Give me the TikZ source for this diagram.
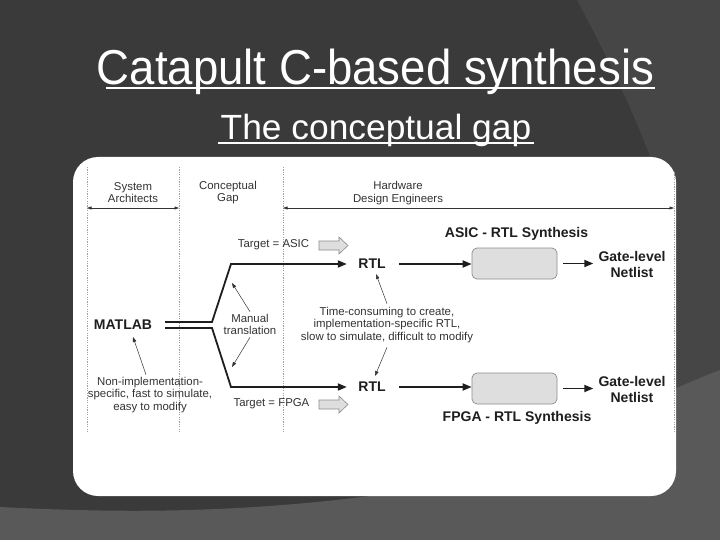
\documentclass[tikz,border=0pt]{standalone}
\usepackage{graphicx}
\usepackage{fontspec}
\setmainfont{Liberation Sans}
\usetikzlibrary{arrows.meta}
\definecolor{bgdark}{HTML}{3A3A3A}
\definecolor{bgmid}{HTML}{464646}
\definecolor{bglight}{HTML}{595959}
\definecolor{txt}{HTML}{333333}
\definecolor{ink}{HTML}{1E1E1E}
\definecolor{boxfill}{HTML}{DEDEDE}
\definecolor{boxline}{HTML}{8C8C8C}
\tikzset{
  mainarrow/.style={line width=1.8pt, draw=ink, -{Triangle[length=9pt,width=7pt]}},
  notearrow/.style={line width=0.5pt, draw=txt, -{Triangle[length=5pt,width=3.5pt]}},
  spanarrow/.style={line width=0.6pt, draw=txt, {Triangle[length=4.5pt,width=3pt]}-{Triangle[length=4.5pt,width=3pt]}},
  divider/.style={draw=gray!75, line width=0.5pt, dash pattern=on 1.2pt off 1.2pt},
  lbl/.style={text=txt, font=\fontsize{11.4}{12.8}\selectfont, align=center, inner sep=0pt},
  blbl/.style={text=ink, font=\fontsize{14}{16}\selectfont\bfseries, align=center, inner sep=0pt},
  synbox/.style={draw=boxline, fill=boxfill, line width=0.7pt, rounded corners=5pt, minimum width=85pt, minimum height=31pt, inner sep=0pt},
  blockarrow/.style={draw=boxline, fill=boxfill, line width=0.6pt}
}
\begin{document}
\begin{tikzpicture}[x=1pt, y=-1pt]
\useasboundingbox (0,0) rectangle (720,540);
% background
\fill[bgdark] (0,0) rectangle (720,540);
\fill[bgmid] (577,0) .. controls (620,80) and (650,150) .. (665,200) -- (665,400) -- (720,400) -- (720,0) -- cycle;
\fill[bglight] (0,507) .. controls (100,512) and (220,515) .. (370,496) .. controls (520,470) and (640,400) .. (720,370) -- (720,540) -- (0,540) -- cycle;
% titles
\node[text=white, font=\fontsize{49}{55}\selectfont, anchor=base, inner sep=0pt] (title) at (375.5,85) {\scalebox{0.93}[1]{Catapult C-based synthesis}};
\coordinate (ul1) at (106,88);
\coordinate (ul2) at (655,88);
\draw[white, line width=2.5pt] (ul1) -- (ul2);
\node[text=white, font=\fontsize{35}{40}\selectfont, anchor=base, inner sep=0pt] (sub) at (376,140) {\scalebox{1.01}[1]{The conceptual gap}};
\coordinate (su1) at (218,143);
\coordinate (su2) at (534,143);
\draw[white, line width=2pt] (su1) -- (su2);
% card
\fill[white, rounded corners=25pt] (73,157) rectangle (676,496);
% dividers
\coordinate (d1t) at (87,167);  \coordinate (d1b) at (87,433);
\coordinate (d2t) at (179,167); \coordinate (d2b) at (179,433);
\coordinate (d3t) at (283,167); \coordinate (d3b) at (283,433);
\coordinate (d4t) at (674,172); \coordinate (d4b) at (674,433);
\draw[divider] (d1t) -- (d1b);
\draw[divider] (d2t) -- (d2b);
\draw[divider] (d3t) -- (d3b);
\draw[divider] (d4t) -- (d4b);
% headers
\node[lbl] (sys) at (133,192.5) {System\\Architects};
\node[lbl] (gap) at (228,192.5) {Conceptual\\Gap};
\node[lbl] (hw) at (398,193) {Hardware\\Design Engineers};
\coordinate (s1l) at (87,208);  \coordinate (s1r) at (179,208);
\coordinate (s2l) at (283,208); \coordinate (s2r) at (674,208);
\draw[spanarrow] (s1l) -- (s1r);
\draw[spanarrow] (s2l) -- (s2r);
% targets
\node[lbl] (tasic) at (273.5,245) {Target = ASIC};
\node[lbl] (tfpga) at (271.5,404) {Target = FPGA};
\draw[blockarrow] (319,241) -- (339,241) -- (339,237) -- (348,245.5) -- (339,254) -- (339,250) -- (319,250) -- cycle;
\draw[blockarrow] (319,400) -- (339,400) -- (339,396) -- (348,404.5) -- (339,413) -- (339,409) -- (319,409) -- cycle;
% main nodes
\node[blbl] (matlab) at (123,325) {MATLAB};
\node[blbl, minimum width=50pt] (rtlA) at (372,264) {RTL};
\node[blbl, minimum width=50pt] (rtlF) at (372,387) {RTL};
\node[synbox] (boxA) at (514.5,263.5) {};
\node[synbox] (boxF) at (514.5,388.5) {};
\node[blbl] (netA) at (632,264) {Gate-level\\Netlist};
\node[blbl] (netF) at (632,389) {Gate-level\\Netlist};
\node[blbl] (asic) at (516.5,234) {ASIC - RTL Synthesis};
\node[blbl] (fpga) at (517,418) {FPGA - RTL Synthesis};
% notes
\node[lbl] (manual) at (250,324.5) {Manual\\translation};
\node[lbl] (nonimpl) at (150,395) {Non-implementation-\\specific, fast to simulate,\\easy to modify};
\node[lbl] (timec) at (387,325) {Time-consuming to create,\\implementation-specific RTL,\\slow to simulate, difficult to modify};
% translation paths
\coordinate (mA0) at (165,322); \coordinate (mA1) at (212,322); \coordinate (mA2) at (231,264);
\coordinate (mF0) at (165,328); \coordinate (mF1) at (212,328); \coordinate (mF2) at (231,387);
\draw[mainarrow] (mA0) -- (mA1) -- (mA2) -- (rtlA.west);
\draw[mainarrow] (mF0) -- (mF1) -- (mF2) -- (rtlF.west);
\draw[mainarrow, shorten <=2pt] (rtlA.east) -- (rtlA.east -| boxA.west);
\draw[mainarrow, shorten <=2pt] (rtlF.east) -- (rtlF.east -| boxF.west);
\draw[mainarrow, shorten <=6pt, shorten >=5pt] (boxA.east) -- (boxA.east -| netA.west);
\draw[mainarrow, shorten <=6pt, shorten >=5pt] (boxF.east) -- (boxF.east -| netF.west);
% annotation arrows
\coordinate (mt1) at (232,283); \coordinate (mt2) at (232,367);
\coordinate (ni1) at (133,337);
\coordinate (tc1) at (376,274); \coordinate (tc2) at (375,376);
\draw[notearrow] ([yshift=2pt]manual.north) -- (mt1);
\draw[notearrow] ([yshift=-2pt]manual.south) -- (mt2);
\draw[notearrow] ([xshift=-4pt,yshift=2pt]nonimpl.north) -- (ni1);
\draw[notearrow] ([yshift=3pt]timec.north) -- (tc1);
\draw[notearrow] ([yshift=-4pt]timec.south) -- (tc2);
\end{tikzpicture}
\end{document}
